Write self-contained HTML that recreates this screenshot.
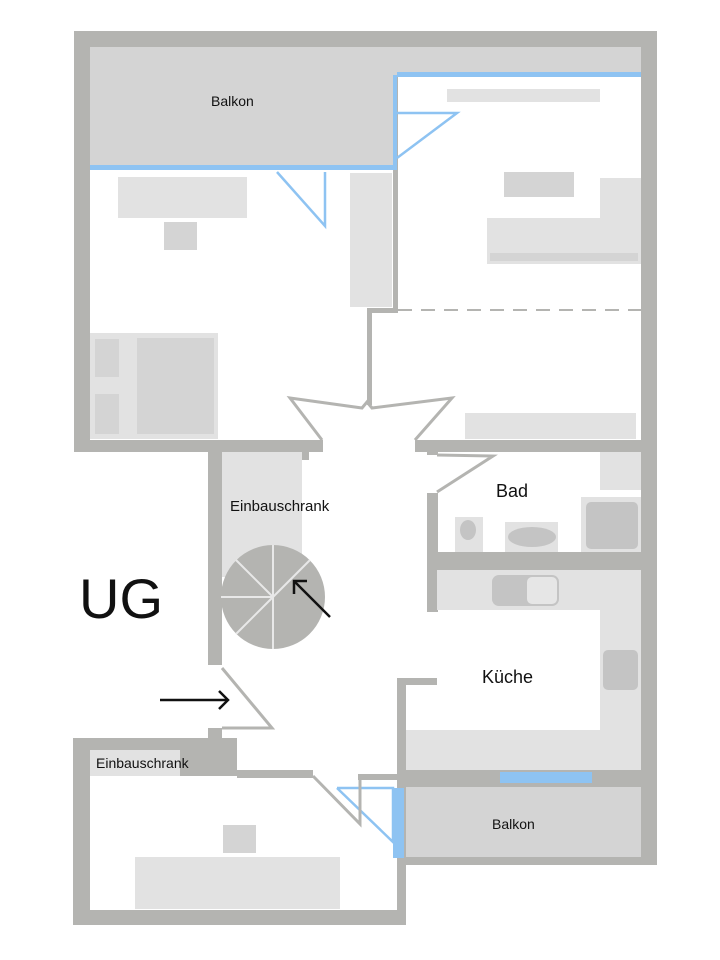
<!DOCTYPE html>
<html><head><meta charset="utf-8"><style>
html,body{margin:0;padding:0;background:#fff;width:720px;height:960px;overflow:hidden}
svg{display:block}
text{font-family:"Liberation Sans","DejaVu Sans",sans-serif;fill:#111}
</style></head><body>
<svg width="720" height="960" viewBox="0 0 720 960" xmlns="http://www.w3.org/2000/svg">
<g fill="#b4b4b1">
<!-- upper outer walls -->
<rect x="74" y="31" width="583" height="16"/>
<rect x="74" y="31" width="16" height="421"/>
<rect x="641" y="31" width="16" height="834"/>
<rect x="74" y="440" width="249" height="12"/>
<rect x="415" y="440" width="226" height="12"/>
<!-- interior wall -->
<rect x="393" y="73" width="5" height="240"/>
<rect x="367" y="308" width="31" height="5"/>
<rect x="367" y="308" width="5" height="97"/>
<!-- hallway -->
<rect x="208" y="452" width="14" height="213"/>
<rect x="300" y="452" width="9" height="8"/>
<rect x="208" y="728" width="14" height="14"/>
<rect x="427" y="440" width="11" height="15"/>
<rect x="427" y="493" width="11" height="119"/>
<rect x="427" y="552" width="214" height="18"/>
<!-- lower left room -->
<rect x="73" y="738" width="164" height="14"/>
<rect x="73" y="738" width="17" height="187"/>
<rect x="180" y="738" width="57" height="38"/>
<rect x="237" y="770" width="76" height="8"/>
<rect x="358" y="774" width="48" height="6"/>
<rect x="397" y="678" width="9" height="247"/>
<rect x="397" y="678" width="40" height="7"/>
<rect x="73" y="910" width="333" height="15"/>
<!-- kitchen / balcony -->
<rect x="397" y="770" width="260" height="17"/>
<rect x="397" y="857" width="260" height="8"/>
</g>
<!-- balconies -->
<rect x="90" y="47" width="551" height="28" fill="#d4d4d4"/>
<rect x="90" y="47" width="303" height="120" fill="#d4d4d4"/>
<rect x="406" y="787" width="235" height="70" fill="#d4d4d4"/>
<!-- blue windows -->
<g fill="#8ec3f2">
<rect x="90" y="165" width="307" height="5"/>
<rect x="397" y="72" width="244" height="5"/>
<rect x="393" y="75" width="4" height="95"/>
<rect x="500" y="772" width="92" height="11"/>
<rect x="393" y="788" width="11" height="70"/>
</g>
<g fill="none" stroke="#8ec3f2" stroke-width="2.5">
<polyline points="277,172 325,226 325,172"/>
<polyline points="397,113 457,113 397,158"/>
<polyline points="337,788 393,788 393,842 337,788"/>
</g>
<!-- grey door lines -->
<g fill="none" stroke="#b4b4b1" stroke-width="3">
<polyline points="322,440 290,398 362,408 367,402 372,408 452,398 415,440"/>
<polyline points="222,668 272,728 222,728"/>
<polyline points="437,455 493,456 437,492"/>
<polyline points="313,776 360,824 360,778"/>
</g>
<!-- upper left furniture -->
<rect x="118" y="177" width="129" height="41" fill="#e2e2e2"/>
<rect x="164" y="222" width="33" height="28" fill="#d4d4d4"/>
<rect x="350" y="173" width="42" height="134" fill="#e2e2e2"/>
<rect x="90" y="333" width="128" height="106" fill="#e2e2e2"/>
<rect x="137" y="338" width="77" height="96" fill="#d4d4d4"/>
<rect x="95" y="339" width="24" height="38" fill="#d4d4d4"/>
<rect x="95" y="394" width="24" height="40" fill="#d4d4d4"/>
<!-- upper right furniture -->
<rect x="447" y="89" width="153" height="13" fill="#e2e2e2"/>
<rect x="504" y="172" width="70" height="25" fill="#d4d4d4"/>
<rect x="600" y="178" width="41" height="86" fill="#e2e2e2"/>
<rect x="487" y="218" width="154" height="46" fill="#e2e2e2"/>
<rect x="490" y="253" width="148" height="8" fill="#d4d4d4"/>
<line x1="398" y1="310" x2="641" y2="310" stroke="#b4b4b1" stroke-width="2" stroke-dasharray="14,9"/>
<rect x="465" y="413" width="171" height="26" fill="#e2e2e2"/>
<!-- einbauschrank + stairs -->
<rect x="222" y="452" width="80" height="125" fill="#e2e2e2"/>
<circle cx="273" cy="597" r="52" fill="#b4b4b1"/>
<g stroke="#e8e8e8" stroke-width="2">
<line x1="273" y1="597" x2="273" y2="545"/>
<line x1="273" y1="597" x2="273" y2="649"/>
<line x1="273" y1="597" x2="221" y2="597"/>
<line x1="273" y1="597" x2="236" y2="560"/>
<line x1="273" y1="597" x2="236" y2="634"/>
<line x1="273" y1="597" x2="310" y2="560"/>
</g>
<g stroke="#111" stroke-width="2.5" fill="none">
<line x1="330" y1="617" x2="294" y2="581"/>
<polyline points="294,594 294,581 307,581"/>
<line x1="160" y1="700" x2="228" y2="700"/>
<polyline points="219,691 228,700 219,709"/>
</g>
<!-- bad fixtures -->
<rect x="600" y="452" width="41" height="38" fill="#e2e2e2"/>
<rect x="581" y="497" width="60" height="55" fill="#e2e2e2"/>
<rect x="586" y="502" width="52" height="47" rx="5" fill="#c4c4c4"/>
<rect x="505" y="522" width="53" height="30" fill="#e2e2e2"/>
<ellipse cx="532" cy="537" rx="24" ry="10" fill="#c4c4c4"/>
<rect x="455" y="517" width="28" height="35" fill="#e2e2e2"/>
<ellipse cx="468" cy="530" rx="8" ry="10" fill="#c4c4c4"/>
<!-- kitchen -->
<rect x="437" y="570" width="204" height="40" fill="#e2e2e2"/>
<rect x="600" y="570" width="41" height="200" fill="#e2e2e2"/>
<rect x="406" y="730" width="235" height="40" fill="#e2e2e2"/>
<rect x="492" y="575" width="67" height="31" rx="7" fill="#c4c4c4"/>
<rect x="527" y="577" width="30" height="27" rx="5" fill="#e6e6e6"/>
<rect x="603" y="650" width="35" height="40" rx="5" fill="#c4c4c4"/>
<!-- lower left -->
<rect x="90" y="750" width="90" height="26" fill="#e2e2e2"/>
<rect x="223" y="825" width="33" height="28" fill="#d4d4d4"/>
<rect x="135" y="857" width="205" height="52" fill="#e2e2e2"/>
<!-- labels -->
<text x="211" y="106" font-size="14">Balkon</text>
<text x="230" y="511" font-size="15">Einbauschrank</text>
<text x="496" y="497" font-size="18">Bad</text>
<text x="482" y="683" font-size="18">Küche</text>
<text x="96" y="768" font-size="14">Einbauschrank</text>
<text x="492" y="829" font-size="14">Balkon</text>
<text x="79" y="618" font-size="56">UG</text>
</svg>
</body></html>
